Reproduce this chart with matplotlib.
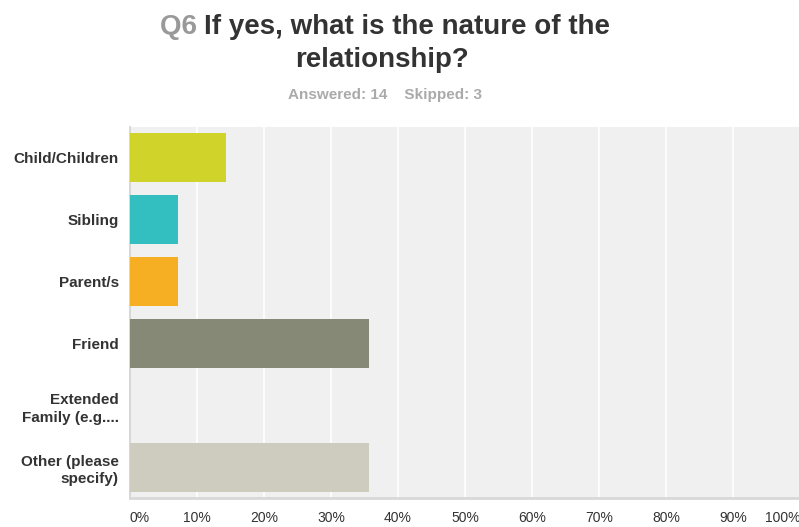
import matplotlib
matplotlib.use("Agg")
import matplotlib.pyplot as plt

plt.rcParams['font.family'] = ['Liberation Sans', 'DejaVu Sans']

categories = ["Child/Children", "Sibling", "Parent/s", "Friend",
              "Extended\nFamily (e.g....", "Other (please\nspecify)"]
percents = [14.29, 7.14, 7.14, 35.71, 0.0, 35.71]
colors = ["#d0d42a", "#33bec0", "#f6ae22", "#878977", "#c0c0c0", "#cdccbe"]
ticks = list(range(0, 101, 10))
tick_labels = [f"{t}%" for t in ticks]

W, H = 799, 527
fig = plt.figure(figsize=(W / 100, H / 100), dpi=100)
ax = fig.add_axes([130 / W, 1 - 498 / H, 670 / W, (498 - 127) / H])

ax.set_facecolor("#f0f0f0")
ypos = list(range(len(categories)))
ax.barh(ypos, percents, height=0.79, color=colors, edgecolor="none", zorder=3)
ax.set_ylim(len(categories) - 0.5, -0.5)
ax.set_xlim(0, 100)

ax.set_xticks(ticks)
ax.set_xticklabels(tick_labels)
ax.grid(axis="x", color="white", linewidth=1.2, zorder=1)
ax.set_axisbelow(True)
ax.tick_params(axis="x", length=0, pad=9, labelsize=10, labelcolor="#333333")
labs = ax.get_xticklabels()
labs[0].set_ha("left")
labs[-1].set_ha("right")

ax.set_yticks(ypos)
ax.set_yticklabels(categories, fontweight="bold", fontsize=11, color="#333333",
                   linespacing=1.35)
ax.tick_params(axis="y", length=0, pad=8)

for s in ["top", "right"]:
    ax.spines[s].set_visible(False)
ax.spines["left"].set_color("#d0d0d0")
ax.spines["left"].set_linewidth(1.2)
ax.spines["bottom"].set_color("#d8d8d8")
ax.spines["bottom"].set_linewidth(2)

# two-colour title line
fig.canvas.draw()
r = fig.canvas.get_renderer()
y1 = 1 - 27 / H
q = fig.text(0, y1, "Q6 ", fontsize=20, fontweight="bold", color="#999999", va="center")
rest = fig.text(0, y1, "If yes, what is the nature of the", fontsize=20, fontweight="bold",
                color="#333333", va="center")
wq = q.get_window_extent(r).width
wr = rest.get_window_extent(r).width
x0 = 385 - (wq + wr) / 2
q.set_x(x0 / W)
rest.set_x((x0 + wq) / W)
fig.text(382 / W, 1 - 60 / H, "relationship?", fontsize=20, fontweight="bold",
         color="#333333", ha="center", va="center")
fig.text(385 / W, 1 - 95 / H, "Answered: 14    Skipped: 3", fontsize=11, fontweight="bold",
         color="#aaaaaa", ha="center", va="center")

fig.savefig("out.png", dpi=100)
